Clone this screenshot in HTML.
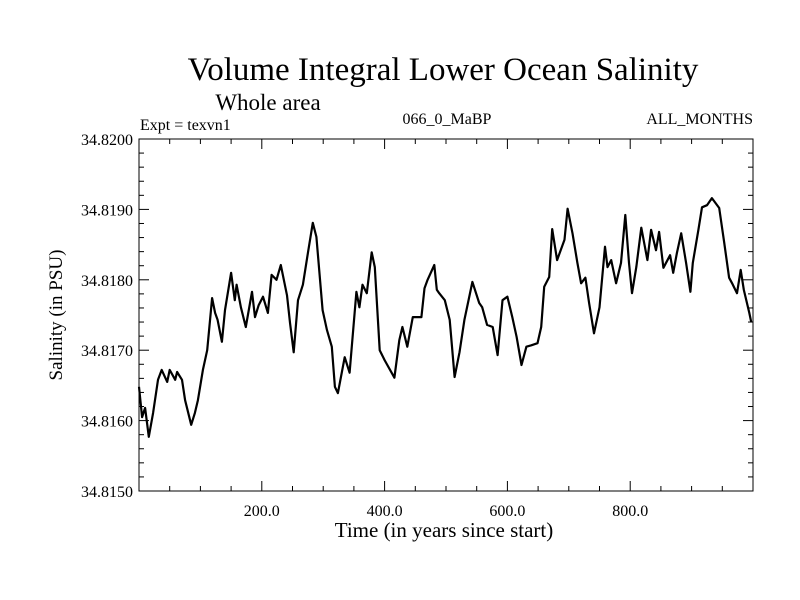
<!DOCTYPE html>
<html><head><meta charset="utf-8">
<style>
body{margin:0;background:#fff;}
svg{display:block;font-family:"Liberation Serif",serif;}
</style></head>
<body>
<svg id="chart" width="800" height="600" viewBox="0 0 800 600">
<rect width="800" height="600" fill="#fff"/>
<text x="443" y="80" font-size="33" text-anchor="middle">Volume Integral Lower Ocean Salinity</text>
<text x="268" y="110" font-size="23" text-anchor="middle">Whole area</text>
<text x="140" y="130" font-size="16">Expt = texvn1</text>
<text x="447" y="124" font-size="16" text-anchor="middle">066_0_MaBP</text>
<text x="753" y="124" font-size="16" text-anchor="end">ALL_MONTHS</text>
<text transform="translate(62,315) rotate(-90)" font-size="19" text-anchor="middle">Salinity (in PSU)</text>
<text x="444" y="537" font-size="21" text-anchor="middle">Time (in years since start)</text>
<g id="axes"></g>
<path id="series" fill="none" stroke="#000" stroke-width="2.2" stroke-linejoin="round"/>
<rect x="139" y="139" width="614" height="352" fill="none" stroke="#000" stroke-width="1"/>
</svg>
<script>
const years=[0,5,10,16,23,31,37,46,50,59,62,70,75,85,91,96,104,111,119,124,128,135,140,150,156,159,166,174,184,189,195,202,210,216,224,231,241,246,252,259,267,275,283,289,299,306,314,319,324,335,343,354,359,364,371,379,384,392,400,416,424,429,437,446,460,465,470,481,485,489,498,506,514,522,530,543,554,559,567,576,584,592,600,608,615,623,631,639,649,655,660,668,673,681,693,698,706,714,720,727,733,741,750,759,763,769,777,785,792,798,803,810,818,828,834,842,847,854,865,870,876,883,891,898,902,911,917,925,933,945,953,961,966,974,980,985,994,997];
const salinity=[34.81648,34.81605,34.81618,34.81577,34.81611,34.81658,34.81672,34.81655,34.81672,34.81658,34.81669,34.81658,34.81629,34.81594,34.81611,34.81629,34.81672,34.81700,34.81774,34.81753,34.81743,34.81712,34.81757,34.81810,34.81771,34.81793,34.81761,34.81733,34.81783,34.81747,34.81764,34.81776,34.81753,34.81807,34.81800,34.81821,34.81778,34.81739,34.81697,34.81771,34.81793,34.81838,34.81881,34.81861,34.81757,34.81729,34.81705,34.81648,34.81639,34.81690,34.81668,34.81783,34.81761,34.81793,34.81781,34.81839,34.81818,34.81700,34.81686,34.81661,34.81714,34.81733,34.81705,34.81747,34.81747,34.81788,34.81800,34.81821,34.81786,34.81781,34.81771,34.81743,34.81662,34.81697,34.81743,34.81797,34.81767,34.81761,34.81736,34.81733,34.81693,34.81771,34.81776,34.81747,34.81719,34.81679,34.81705,34.81707,34.81710,34.81733,34.81790,34.81804,34.81872,34.81828,34.81857,34.81901,34.81866,34.81824,34.81795,34.81803,34.81767,34.81724,34.81761,34.81847,34.81818,34.81828,34.81795,34.81824,34.81892,34.81824,34.81781,34.81818,34.81874,34.81828,34.81871,34.81842,34.81868,34.81817,34.81835,34.81810,34.81838,34.81866,34.81824,34.81783,34.81824,34.81871,34.81903,34.81906,34.81916,34.81902,34.81854,34.81803,34.81795,34.81781,34.81814,34.81786,34.81753,34.81740];
const yTicks=[34.815,34.816,34.817,34.818,34.819,34.820];
const yTickLabels=["34.8150","34.8160","34.8170","34.8180","34.8190","34.8200"];
const xTicks=[200,400,600,800];
const xTickLabels=["200.0","400.0","600.0","800.0"];
const X0=139,X1=753,Y0=491,Y1=139,XMIN=0,XMAX=1000,YMIN=34.815,YMAX=34.820;
function sx(v){return X0+(v-XMIN)/(XMAX-XMIN)*(X1-X0);}
function sy(v){return Y0-(v-YMIN)/(YMAX-YMIN)*(Y0-Y1);}
const NS="http://www.w3.org/2000/svg";
const g=document.getElementById('axes');
function line(x1,y1,x2,y2,name){const l=document.createElementNS(NS,'line');l.setAttribute('x1',x1);l.setAttribute('y1',y1);l.setAttribute('x2',x2);l.setAttribute('y2',y2);l.setAttribute('stroke','#000');l.setAttribute('stroke-width','1');


g.appendChild(l);}
for(let v=0;v<=1000;v+=50){const x=sx(v);const len=(v%200===0)?10:5;line(x,Y0,x,Y0-len,'x-tick');line(x,Y1,x,Y1+len,'x-tick-top');}
for(let i=0;i<=25;i++){const v=YMIN+i*0.0002;const y=sy(v);const len=(i%5===0)?10:5;line(X0,y,X0+len,y,'y-tick');line(X1,y,X1-len,y,'y-tick-right');}
yTicks.forEach((v,i)=>{const t=document.createElementNS(NS,'text');t.setAttribute('x',X0-6);t.setAttribute('y',sy(v)+6);t.setAttribute('text-anchor','end');t.setAttribute('font-size','16');t.textContent=yTickLabels[i];


g.appendChild(t);});
xTicks.forEach((v,i)=>{const t=document.createElementNS(NS,'text');t.setAttribute('x',sx(v));t.setAttribute('y',Y0+25);t.setAttribute('text-anchor','middle');t.setAttribute('font-size','16');t.textContent=xTickLabels[i];


g.appendChild(t);});
let d='';years.forEach((yr,i)=>{d+=(i?'L':'M')+sx(yr).toFixed(1)+','+sy(salinity[i]).toFixed(1);});
document.getElementById('series').setAttribute('d',d);
</script>
</body></html>
